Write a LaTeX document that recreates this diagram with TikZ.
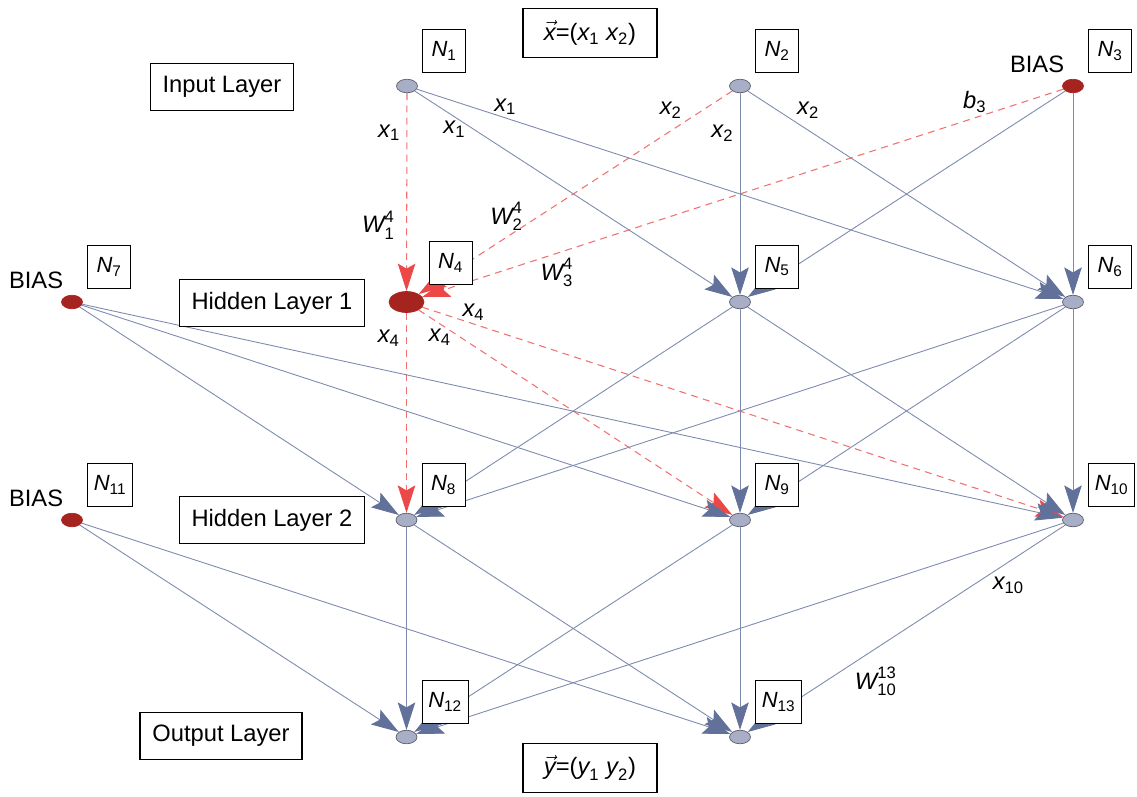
\documentclass[tikz,border=0pt]{standalone}
\usepackage{amsmath}
\usepackage{fontspec}
\setmainfont{Liberation Sans}
\usetikzlibrary{arrows.meta,positioning,shapes.geometric}
\definecolor{edgeblue}{RGB}{124,138,174}
\definecolor{tipblue}{RGB}{98,113,154}
\definecolor{dashred}{RGB}{242,112,112}
\definecolor{tipred}{RGB}{236,72,72}
\definecolor{unitgray}{RGB}{168,174,198}
\definecolor{biasred}{RGB}{166,36,32}
\newcommand{\vlab}[2]{$\textit{#1}_{\text{#2}}$}
\newcommand{\wlab}[3]{$\textit{#1}^{\text{#2}}_{\text{#3}}$}
\newcommand{\nlab}[1]{$\textit{N}_{\text{#1}}$}
\begin{document}
\begin{tikzpicture}[font=\fontsize{13.5}{16}\selectfont,
  unit/.style={ellipse, draw=unitgray!55!black, fill=unitgray, line width=0.4pt,
    minimum width=0.42cm, minimum height=0.27cm, inner sep=0pt},
  bias/.style={unit, draw=biasred, fill=biasred},
  bigbias/.style={bias, minimum width=0.7cm, minimum height=0.42cm},
  tag/.style={draw, fill=white, line width=0.75pt, font=\fontsize{12.5}{14}\selectfont,
    minimum width=0.86cm, minimum height=0.86cm, inner xsep=3.5pt},
  layer/.style={draw, fill=white, line width=0.75pt, minimum height=0.95cm, inner xsep=7pt},
  wl/.style={inner sep=1.5pt},
  wire/.style={draw=edgeblue, line width=0.5pt,
    -{Stealth[length=0.55cm, width=0.35cm, inset=0.1cm, color=tipblue, fill=tipblue]}},
  dwire/.style={draw=dashred, line width=0.6pt, dash pattern=on 4pt off 3pt,
    -{Stealth[length=0.55cm, width=0.35cm, inset=0.1cm, color=tipred, fill=tipred]}}]
\useasboundingbox (0,0) rectangle (22.74,-15.92);
% units
\node[unit] (n1) at (8.14,-1.72) {};
\node[unit] (n2) at (14.80,-1.72) {};
\node[bias] (n3) at (21.46,-1.72) {};
\node[bias] (n7) at (1.44,-6.04) {};
\node[bigbias] (n4) at (8.13,-6.04) {};
\node[unit] (n5) at (14.80,-6.04) {};
\node[unit] (n6) at (21.46,-6.04) {};
\node[bias] (n11) at (1.44,-10.40) {};
\node[unit] (n8) at (8.13,-10.40) {};
\node[unit] (n9) at (14.80,-10.40) {};
\node[unit] (n10) at (21.46,-10.40) {};
\node[unit] (n12) at (8.13,-14.74) {};
\node[unit] (n13) at (14.80,-14.74) {};
% input layer -> hidden layer 1
\draw[dwire] (n1) to node[wl, pos=.2, left=2pt] {\vlab{x}{1}} node[wl, pos=.665, left=5pt] {\wlab{W}{4}{1}} (n4);
\draw[dwire] (n2) to node[wl, pos=.151, above left=0pt] {\vlab{x}{2}} node[wl, pos=.72, above=2pt] {\wlab{W}{4}{2}} (n4);
\draw[dwire] (n3) to node[wl, pos=.138, above=1pt] {\vlab{b}{3}} node[wl, pos=.79, below=1pt] {\wlab{W}{4}{3}} (n4);
\draw[wire] (n1) to node[wl, pos=.186, left=3pt] {\vlab{x}{1}} (n5);
\draw[wire] (n1) to node[wl, pos=.137, above=0pt] {\vlab{x}{1}} (n6);
\draw[wire] (n2) to node[wl, pos=.198, left=2pt] {\vlab{x}{2}} (n5);
\draw[wire] (n2) to node[wl, pos=.146, above right=0pt] {\vlab{x}{2}} (n6);
\draw[wire] (n3) to (n5);
\draw[wire] (n3) to (n6);
% hidden layer 1 -> hidden layer 2
\draw[dwire] (n4) to node[wl, pos=.128, left=2pt] {\vlab{x}{4}} (n8);
\draw[dwire] (n4) to node[wl, pos=.068, below=1pt] {\vlab{x}{4}} (n9);
\draw[dwire] (n4) to node[wl, pos=.08, above=0pt] {\vlab{x}{4}} (n10);
\draw[wire] (n5) to (n8);
\draw[wire] (n5) to (n9);
\draw[wire] (n5) to (n10);
\draw[wire] (n6) to (n8);
\draw[wire] (n6) to (n9);
\draw[wire] (n6) to (n10);
\draw[wire] (n7) to (n8);
\draw[wire] (n7) to (n9);
\draw[wire] (n7) to (n10);
% hidden layer 2 -> output layer
\draw[wire] (n8) to (n12);
\draw[wire] (n8) to (n13);
\draw[wire] (n9) to (n12);
\draw[wire] (n9) to (n13);
\draw[wire] (n10) to (n12);
\draw[wire] (n10) to node[wl, pos=.238, below right=0pt] {\vlab{x}{10}} node[wl, pos=.672, below right=0pt] {\wlab{W}{13}{10}} (n13);
\draw[wire] (n11) to (n12);
\draw[wire] (n11) to (n13);
% unit tags
\node[tag, above right=0.26cm and 0.3cm of n1.center] (t1) {\nlab{1}};
\node[tag, above right=0.26cm and 0.3cm of n2.center] (t2) {\nlab{2}};
\node[tag, above right=0.26cm and 0.3cm of n3.center] (t3) {\nlab{3}};
\node[tag, above right=0.34cm and 0.44cm of n4.center] (t4) {\nlab{4}};
\node[tag, above right=0.26cm and 0.3cm of n5.center] (t5) {\nlab{5}};
\node[tag, above right=0.26cm and 0.3cm of n6.center] (t6) {\nlab{6}};
\node[tag, above right=0.26cm and 0.3cm of n7.center] (t7) {\nlab{7}};
\node[tag, above right=0.26cm and 0.3cm of n8.center] (t8) {\nlab{8}};
\node[tag, above right=0.26cm and 0.3cm of n9.center] (t9) {\nlab{9}};
\node[tag, above right=0.26cm and 0.3cm of n10.center] (t10) {\nlab{10}};
\node[tag, above right=0.26cm and 0.3cm of n11.center] (t11) {\nlab{11}};
\node[tag, above right=0.26cm and 0.3cm of n12.center] (t12) {\nlab{12}};
\node[tag, above right=0.26cm and 0.3cm of n13.center] (t13) {\nlab{13}};
% bias texts
\node[above left=0.05cm and -0.1cm of n3] (b3) {BIAS};
\node[above left=0.05cm and -0.1cm of n7] (b7) {BIAS};
\node[above left=0.05cm and -0.1cm of n11] (b11) {BIAS};
% layer boxes
\node[layer] (inl) at (4.44,-1.74) {Input Layer};
\node[layer] (hl1) at (5.44,-6.06) {Hidden Layer 1};
\node[layer] (hl2) at (5.44,-10.40) {Hidden Layer 2};
\node[layer] (outl) at (4.42,-14.72) {Output Layer};
\node[layer, minimum width=2.68cm, minimum height=0.98cm] (xvec) at (11.8,-0.66) {$\vec{\textit{x}}$=(\vlab{x}{1} \vlab{x}{2})};
\node[layer, minimum width=2.68cm, minimum height=0.98cm] (yvec) at (11.8,-15.36) {$\vec{\textit{y}}$=(\vlab{y}{1} \vlab{y}{2})};
\end{tikzpicture}
\end{document}
